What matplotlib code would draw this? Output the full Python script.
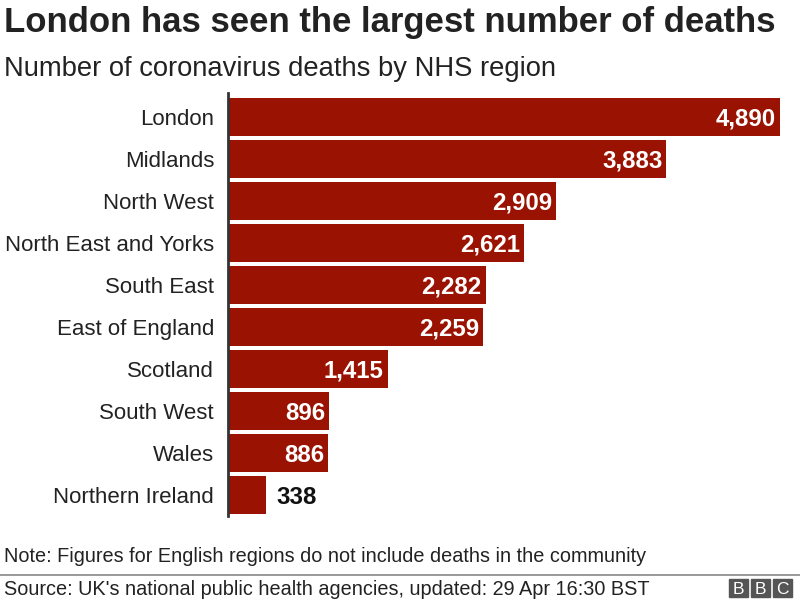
import matplotlib.pyplot as plt
from matplotlib.patches import Rectangle
from matplotlib.lines import Line2D

plt.rcParams['font.family'] = ['Liberation Sans', 'DejaVu Sans']

regions = ['London', 'Midlands', 'North West', 'North East and Yorks', 'South East',
           'East of England', 'Scotland', 'South West', 'Wales', 'Northern Ireland']
deaths = [4890, 3883, 2909, 2621, 2282, 2259, 1415, 896, 886, 338]

bar_colour = '#9A1201'

fig = plt.figure(figsize=(8, 6), dpi=100)
ax = fig.add_axes([0.285, 0.14, 0.69, 0.705])

ypos = list(range(len(regions)))
ax.barh(ypos, deaths, height=0.9, color=bar_colour, left=0)
ax.set_xlim(0, 4890)
ax.set_ylim(9.5, -0.57)
ax.set_yticks(ypos)
ax.set_yticklabels(regions, fontsize=16, color='#222222')
ax.tick_params(axis='y', length=0, pad=10)
ax.set_xticks([])
for s in ['top', 'right', 'bottom']:
    ax.spines[s].set_visible(False)
ax.spines['left'].set_color('#333333')
ax.spines['left'].set_linewidth(2)

for y, v in zip(ypos, deaths):
    lab = f'{v:,}'
    if v > 600:
        ax.text(v - 35, y, lab, ha='right', va='center_baseline', color='white',
                fontsize=17.3, fontweight='bold')
    else:
        ax.text(v + 90, y, lab, ha='left', va='center_baseline', color='#111111',
                fontsize=17.3, fontweight='bold')

fig.text(0.005, 0.963, 'London has seen the largest number of deaths',
         fontsize=25, fontweight='bold', color='#222222', va='center')
fig.text(0.005, 0.885, 'Number of coronavirus deaths by NHS region',
         fontsize=19.7, color='#222222', va='center')
fig.text(0.005, 0.072, 'Note: Figures for English regions do not include deaths in the community',
         fontsize=14.3, color='#222222', va='center')
fig.text(0.005, 0.018, "Source: UK's national public health agencies, updated: 29 Apr 16:30 BST",
         fontsize=14.3, color='#222222', va='center')
fig.add_artist(Line2D([0, 1], [0.042, 0.042], color='#888888', lw=1.2,
                      transform=fig.transFigure))

# BBC blocks
for i, letter in enumerate('BBC'):
    x0 = (729 + i * 22) / 800
    fig.add_artist(Rectangle((x0, 3 / 600), 19 / 800, 18 / 600, color='#555555',
                             transform=fig.transFigure))
    fig.text(x0 + 9.5 / 800, 12 / 600, letter, color='white', fontsize=12.5,
             ha='center', va='center_baseline')

fig.savefig('out.png', dpi=100)
